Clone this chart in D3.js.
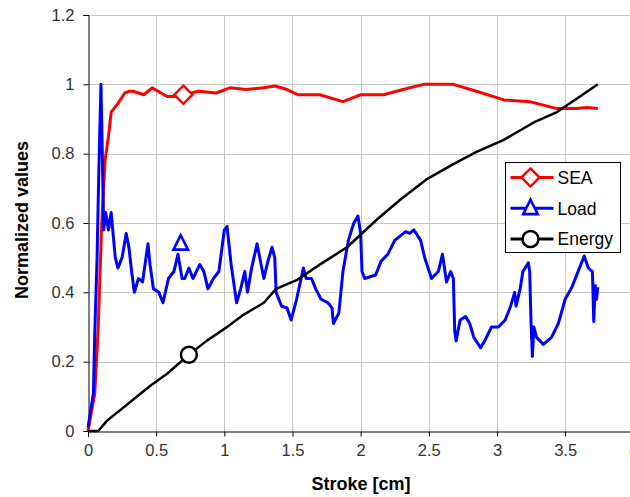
<!DOCTYPE html>
<html>
<head>
<meta charset="utf-8">
<script src="https://cdn.jsdelivr.net/npm/d3@7"></script>
<style>
  body { margin: 0; background: #fff; }
  svg { display: block; }
  text { font-family: "Liberation Sans", Arial, sans-serif; }
</style>
</head>
<body>
<div id="chart"></div>
<script>
// values (stroke in cm, normalized value)
const seaX = [0, 0.05, 0.075, 0.10, 0.125, 0.15, 0.17, 0.22, 0.27, 0.30, 0.33, 0.41, 0.47, 0.58, 0.63, 0.70, 0.81, 0.94, 1.04, 1.16, 1.29, 1.37, 1.46, 1.54, 1.70, 1.87, 2.0, 2.17, 2.31, 2.46, 2.68, 2.85, 3.05, 3.24, 3.44, 3.58, 3.66, 3.74];
const seaY = [0, 0.11, 0.30, 0.59, 0.78, 0.85, 0.92, 0.945, 0.975, 0.98, 0.98, 0.97, 0.99, 0.965, 0.965, 0.97, 0.98, 0.975, 0.99, 0.985, 0.99, 0.995, 0.985, 0.97, 0.97, 0.95, 0.97, 0.97, 0.985, 1.0, 1.0, 0.98, 0.955, 0.95, 0.93, 0.93, 0.933, 0.93];

const loadX = [0, 0.04, 0.05, 0.066, 0.08, 0.095, 0.105, 0.115, 0.13, 0.15, 0.17, 0.20, 0.22, 0.25, 0.28, 0.30, 0.32, 0.34, 0.37, 0.40, 0.44, 0.455, 0.48, 0.52, 0.55, 0.59, 0.63, 0.66, 0.69, 0.71, 0.74, 0.77, 0.82, 0.85, 0.88, 0.92, 0.96, 1.0, 1.02, 1.05, 1.09, 1.12, 1.15, 1.17, 1.20, 1.24, 1.26, 1.29, 1.32, 1.35, 1.37, 1.38, 1.42, 1.46, 1.49, 1.53, 1.58, 1.60, 1.64, 1.67, 1.71, 1.76, 1.79, 1.80, 1.84, 1.87, 1.91, 1.95, 1.98, 2.0, 2.01, 2.03, 2.11, 2.15, 2.20, 2.25, 2.33, 2.36, 2.39, 2.44, 2.47, 2.52, 2.57, 2.60, 2.63, 2.66, 2.68, 2.69, 2.70, 2.73, 2.77, 2.80, 2.83, 2.88, 2.91, 2.96, 3.01, 3.06, 3.10, 3.13, 3.14, 3.17, 3.19, 3.23, 3.24, 3.25, 3.26, 3.27, 3.29, 3.34, 3.40, 3.45, 3.50, 3.55, 3.60, 3.64, 3.67, 3.70, 3.71, 3.72, 3.73, 3.74];
const loadY = [0.01, 0.11, 0.29, 0.49, 0.76, 1.0, 0.80, 0.58, 0.63, 0.58, 0.63, 0.50, 0.47, 0.50, 0.57, 0.53, 0.46, 0.40, 0.44, 0.43, 0.54, 0.48, 0.41, 0.40, 0.37, 0.44, 0.46, 0.51, 0.44, 0.44, 0.47, 0.44, 0.48, 0.46, 0.41, 0.44, 0.46, 0.58, 0.59, 0.48, 0.37, 0.41, 0.46, 0.40, 0.47, 0.54, 0.50, 0.44, 0.49, 0.53, 0.50, 0.40, 0.36, 0.355, 0.32, 0.38, 0.47, 0.44, 0.44, 0.41, 0.38, 0.37, 0.355, 0.31, 0.34, 0.46, 0.55, 0.60, 0.62, 0.57, 0.46, 0.44, 0.45, 0.49, 0.51, 0.55, 0.575, 0.57, 0.58, 0.55, 0.50, 0.44, 0.46, 0.51, 0.43, 0.46, 0.44, 0.29, 0.26, 0.32, 0.33, 0.31, 0.27, 0.24, 0.26, 0.30, 0.30, 0.32, 0.36, 0.40, 0.36, 0.41, 0.46, 0.485, 0.46, 0.31, 0.215, 0.30, 0.27, 0.25, 0.27, 0.31, 0.38, 0.415, 0.465, 0.505, 0.47, 0.46, 0.315, 0.42, 0.38, 0.415];

const energyX = [0, 0.075, 0.14, 0.235, 0.33, 0.455, 0.58, 0.74, 0.87, 1.02, 1.14, 1.29, 1.38, 1.53, 1.70, 1.90, 2.12, 2.29, 2.48, 2.68, 2.85, 3.05, 3.27, 3.44, 3.59, 3.74];
const energyY = [0, 0, 0.03, 0.06, 0.09, 0.13, 0.165, 0.22, 0.26, 0.30, 0.335, 0.37, 0.41, 0.435, 0.48, 0.53, 0.61, 0.667, 0.725, 0.77, 0.805, 0.84, 0.89, 0.92, 0.96, 1.0];

// one marker per series, where the picture shows it
const markerX = [0.70, 0.68, 0.74];
const markerY = [0.97, 0.54, 0.22];

const seriesNames = ["SEA", "Load", "Energy"];
const seriesColors = ["#ff0000", "#0000ff", "#000000"];
const xTicks = [0, 0.5, 1, 1.5, 2, 2.5, 3, 3.5, 4];
const yTicks = [0, 0.2, 0.4, 0.6, 0.8, 1, 1.2];

const width = 630, height = 497;
const svg = d3.select('#chart').append('svg')
    .attr('width', width)
    .attr('height', height);

const x = d3.scaleLinear().domain([0, 4]).range([88, 633.3]);
const y = d3.scaleLinear().domain([0, 1.2]).range([431, 15]);

// grid
svg.append('g').selectAll('line.h')
    .data(yTicks.filter(d => d > 0))
    .join('line')
    .attr('x1', x(0)).attr('x2', width)
    .attr('y1', d => Math.round(y(d)) + 0.5).attr('y2', d => Math.round(y(d)) + 0.5)
    .attr('stroke', '#c8c8c8').attr('stroke-width', 1);
svg.append('g').selectAll('line.v')
    .data(xTicks.filter(d => d > 0))
    .join('line')
    .attr('x1', d => Math.round(x(d)) + 0.5).attr('x2', d => Math.round(x(d)) + 0.5)
    .attr('y1', y(1.2)).attr('y2', y(0))
    .attr('stroke', '#c8c8c8').attr('stroke-width', 1);

// axes
const xAxis = d3.axisBottom(x).tickValues(xTicks).tickSize(5).tickPadding(8)
    .tickFormat(d3.format('~g'));
const yAxis = d3.axisLeft(y).tickValues(yTicks).tickSize(5).tickPadding(9)
    .tickFormat(d3.format('~g'));

const gx = svg.append('g').attr('transform', 'translate(0,' + (Math.round(y(0)) + 0.5) + ')').call(xAxis);
const gy = svg.append('g').attr('transform', 'translate(' + (x(0) + 0.5) + ',0)').call(yAxis);
[gx, gy].forEach(g => {
    g.select('.domain').attr('stroke', '#000');
    g.selectAll('.tick line').attr('stroke', '#000');
    g.selectAll('.tick text').attr('fill', '#333').style('font-size', '16.5px')
        .style('font-family', '"Liberation Sans", Arial, sans-serif');
});

// lines
const line = d3.line().x(d => x(d[0])).y(d => y(d[1]));
const seriesData = [
    d3.zip(seaX, seaY),
    d3.zip(loadX, loadY),
    d3.zip(energyX, energyY)
];
const widths = [3, 3, 2.5];
seriesData.forEach((data, i) => {
    svg.append('path')
        .datum(data)
        .attr('d', line)
        .attr('fill', 'none')
        .attr('stroke', seriesColors[i])
        .attr('stroke-width', widths[i])
        .attr('stroke-linejoin', 'round');
});

function drawMarker(g, i, cx, cy) {
    if (i === 0) {
        g.append('path')
            .attr('d', d3.symbol().type(d3.symbolDiamond2).size(210)())
            .attr('transform', 'translate(' + cx + ',' + cy + ')');
    } else if (i === 1) {
        g.append('path')
            .attr('d', d3.symbol().type(d3.symbolTriangle2).size(150)())
            .attr('transform', 'translate(' + cx + ',' + (cy + 1) + ') scale(1,1.15)');
    } else {
        g.append('circle').attr('cx', cx).attr('cy', cy).attr('r', 8);
    }
    g.selectAll('path, circle')
        .attr('fill', '#fff')
        .attr('stroke', seriesColors[i])
        .attr('stroke-width', 2.5);
}

markerX.forEach((mx, i) => {
    drawMarker(svg.append('g'), i, x(mx), y(markerY[i]));
});

// legend
const legend = svg.append('g').attr('transform', 'translate(505.5,162.5)');
legend.append('rect')
    .attr('width', 115).attr('height', 90)
    .attr('fill', '#fff').attr('stroke', '#000').attr('stroke-width', 1);
seriesNames.forEach((name, i) => {
    const ly = 15 + i * 30.8;
    const row = legend.append('g');
    row.append('line')
        .attr('x1', 5).attr('x2', 48)
        .attr('y1', ly).attr('y2', ly)
        .attr('stroke', seriesColors[i]).attr('stroke-width', 3);
    drawMarker(row, i, 25, ly);
    row.append('text')
        .attr('x', 52).attr('y', ly)
        .attr('dy', '0.36em')
        .style('font-size', '17.5px')
        .attr('fill', '#000')
        .text(name);
});

// axis titles
svg.append('text')
    .attr('x', 361).attr('y', 490)
    .attr('text-anchor', 'middle')
    .style('font-size', '18px').style('font-weight', 'bold')
    .text('Stroke [cm]');
svg.append('text')
    .attr('transform', 'translate(28,220) rotate(-90)')
    .attr('text-anchor', 'middle')
    .style('font-size', '18px').style('font-weight', 'bold')
    .text('Normalized values');
</script>
</body>
</html>
